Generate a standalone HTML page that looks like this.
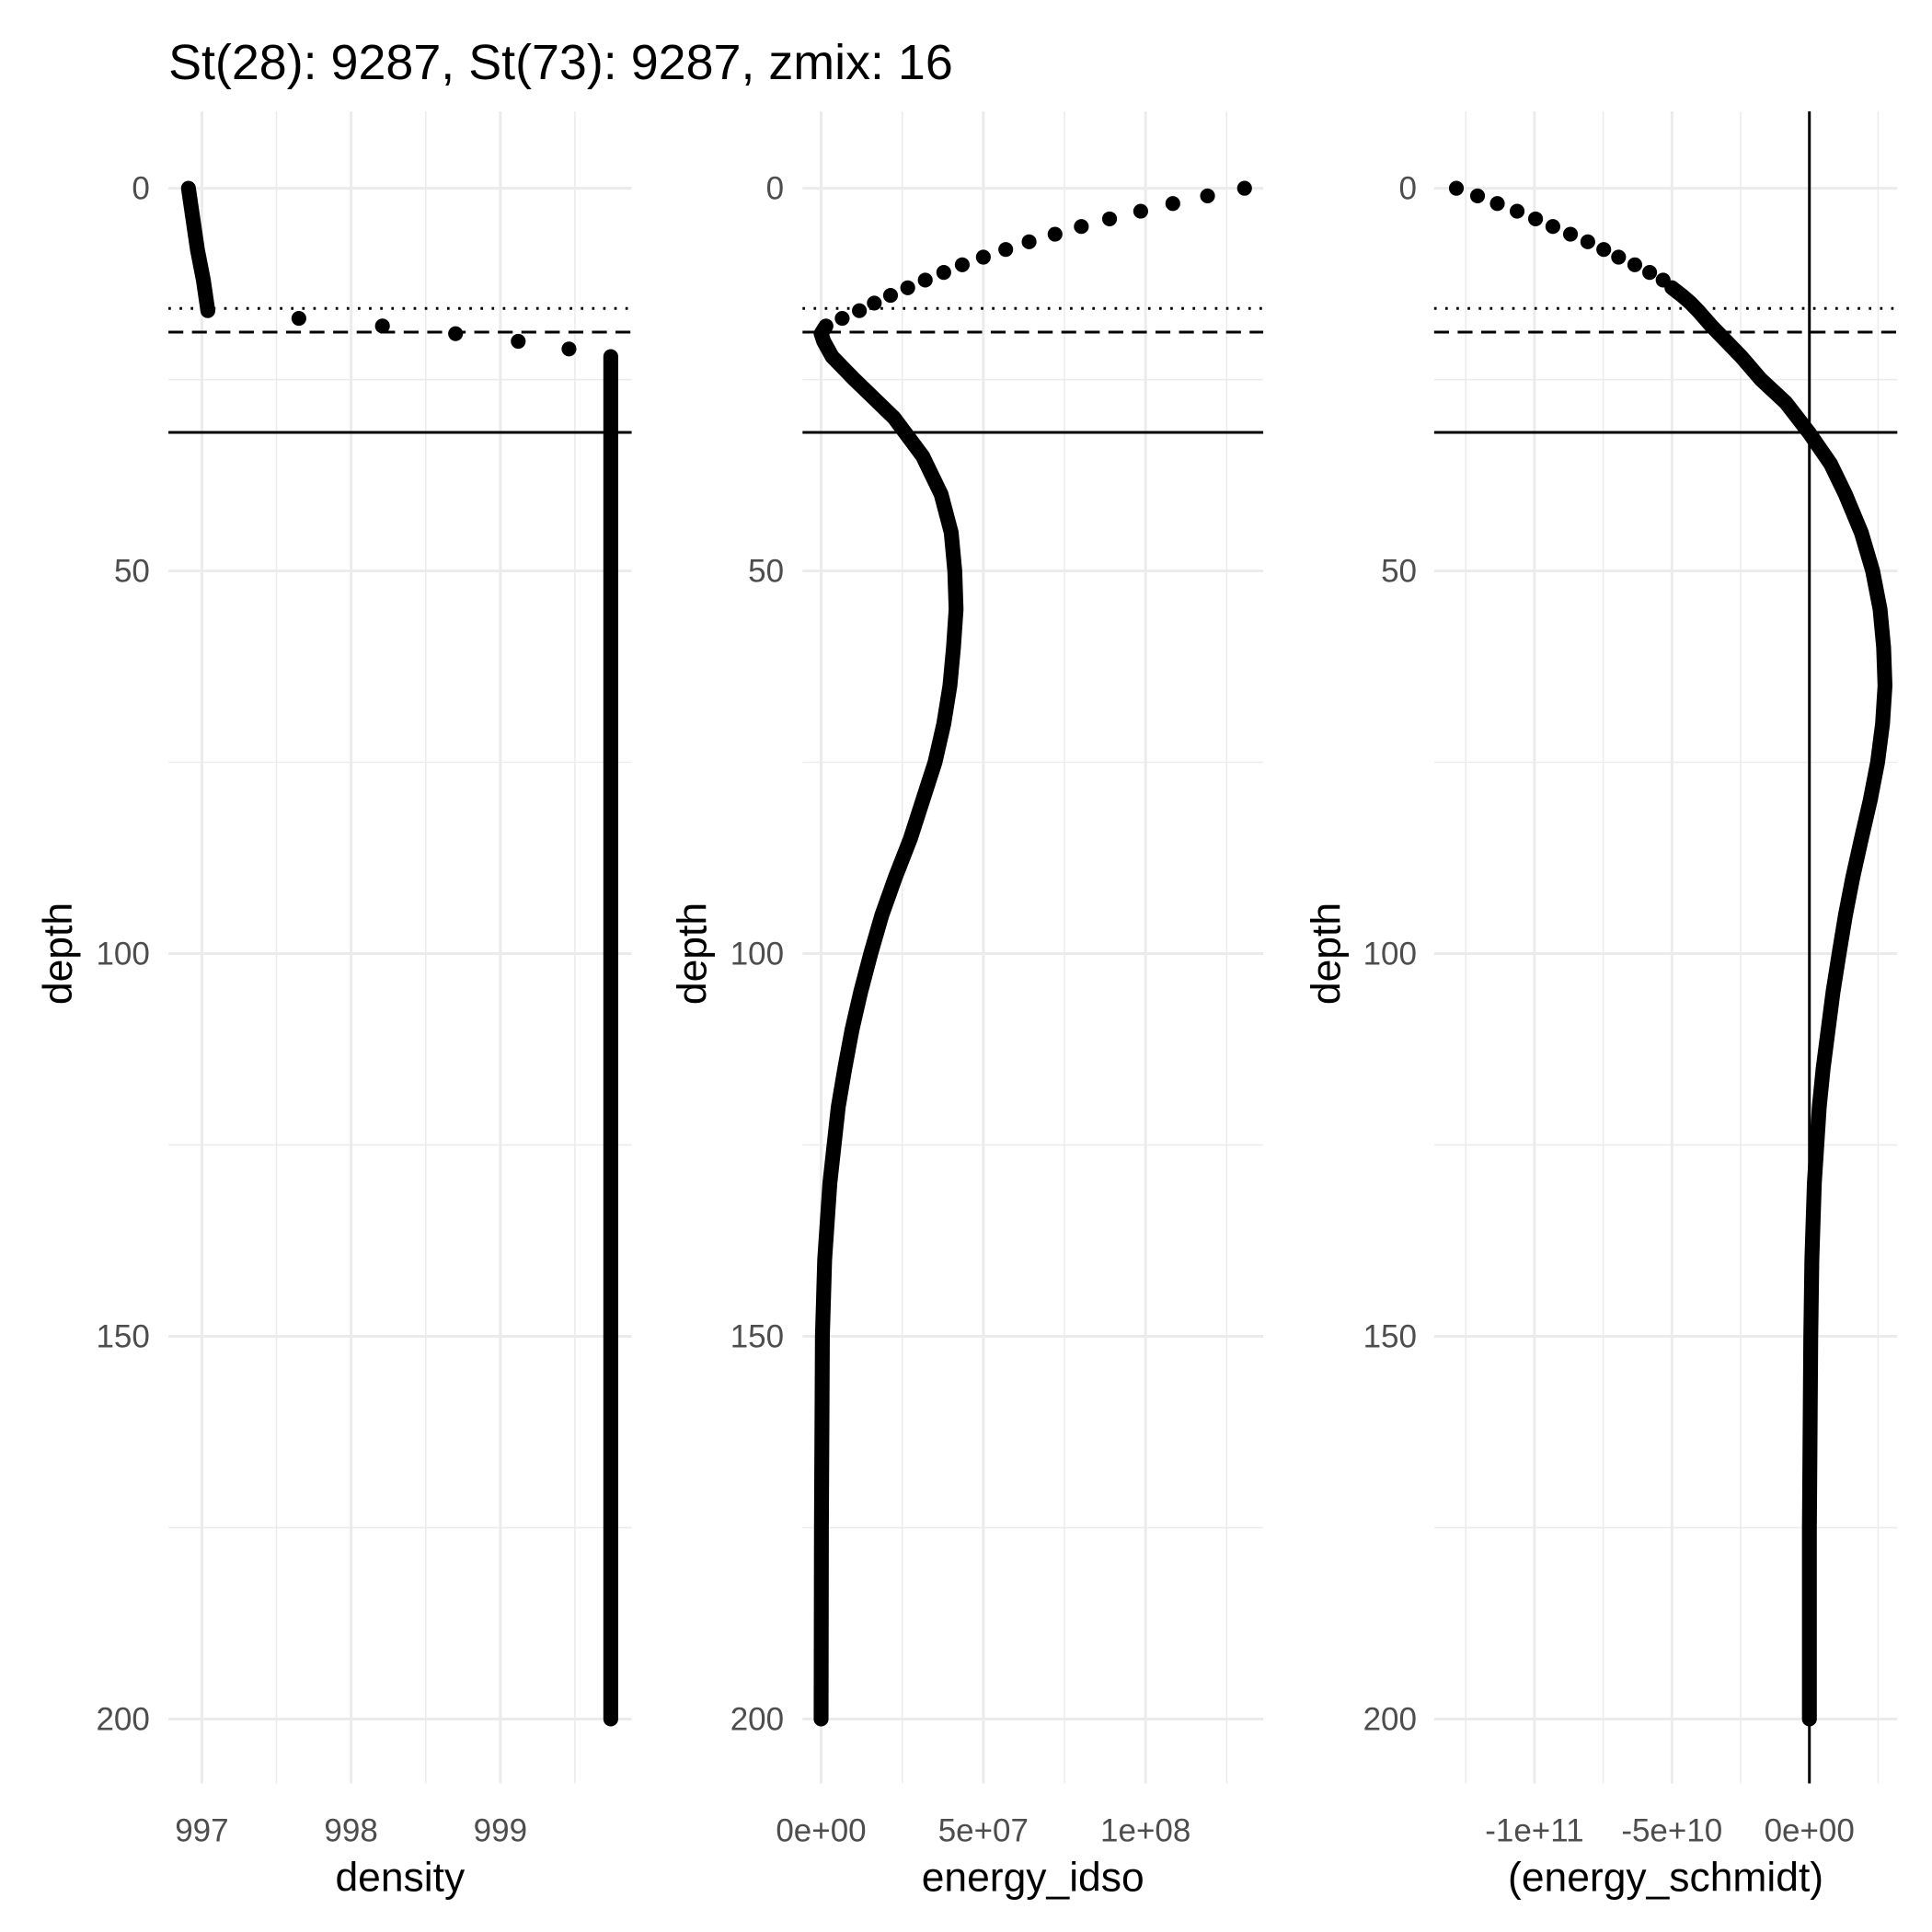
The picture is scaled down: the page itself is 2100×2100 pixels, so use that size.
<!DOCTYPE html>
<html><head><meta charset="utf-8"><style>
html,body{margin:0;padding:0;background:#fff}
svg{display:block}
text{font-family:"Liberation Sans",Arial,sans-serif}
</style></head><body>
<svg id="chart" width="2100" height="2100" viewBox="0 0 1560 1560" xmlns="http://www.w3.org/2000/svg">
<text x="136" y="64" font-size="40" fill="#000">St(28): 9287, St(73): 9287, zmix: 16</text>
<g id="plots"></g>
</svg>
<script>
// depth ticks
const depthTicks = [0, 50, 100, 150, 200];
const depthMinor = [25, 75, 125, 175];
const hlines = [15.7, 18.8, 31.9]; // dotted, dashed, solid

// density panel
const densDotDepth = [17, 18, 19, 20, 21];
const densDot = [997.65, 998.21, 998.70, 999.12, 999.46];
const densCurveDepth = [0, 4, 8, 12, 16];
const densCurve = [996.91, 996.94, 996.97, 997.01, 997.04];
const densDeepDepth = [22, 50, 100, 150, 200];
const densDeep = [999.74, 999.74, 999.74, 999.74, 999.74];
const densTicks = [997, 998, 999];
const densTickLabels = ["997", "998", "999"];

// energy_idso panel (units 1e7)
const idsoDotDepth = [0,1,2,3,4,5,6,7,8,9,10,11,12,13,14,15,16,17];
const idsoDot = [13.05,11.91,10.84,9.85,8.89,8.02,7.21,6.41,5.69,5.0,4.35,3.78,3.21,2.67,2.14,1.64,1.18,0.65];
const idsoCurveDepth = [18,19,20,22,25,30,35,40,45,50,55,60,65,70,75,80,85,90,95,100,105,110,115,120,130,140,150,175,200];
const idsoCurve = [0.15,0,0.08,0.34,1.03,2.25,3.13,3.70,4.01,4.12,4.16,4.08,3.97,3.78,3.51,3.13,2.75,2.29,1.87,1.53,1.22,0.95,0.73,0.53,0.27,0.11,0.04,0.01,0];
const idsoTicks = [0, 5, 10];
const idsoTickLabels = ["0e+00", "5e+07", "1e+08"];

// energy_schmidt panel (units 1e10)
const schDotDepth = [0,1,2,3,4,5,6,7,8,9,10,11,12];
const schDot = [-12.84,-12.07,-11.35,-10.63,-9.96,-9.33,-8.69,-8.06,-7.48,-6.94,-6.35,-5.81,-5.32];
const schCurveDepth = [13,14,15,16,18,20,22,25,28,32,36,40,45,50,55,60,65,70,75,80,85,90,95,100,105,110,115,120,125,130,140,150,175,200];
const schCurve = [-5.0,-4.64,-4.32,-4.05,-3.56,-3.02,-2.48,-1.76,-0.86,0,0.77,1.31,1.89,2.30,2.57,2.70,2.75,2.66,2.48,2.21,1.89,1.58,1.31,1.08,0.86,0.68,0.50,0.36,0.27,0.18,0.09,0.05,0,0];
const schTicks = [-10, -5, 0];
const schTickLabels = ["-1e+11", "-5e+10", "0e+00"];

const NS = "http://www.w3.org/2000/svg";
const root = document.getElementById("plots");
const yTop = 90, yBot = 1440;
function ys(d){ return 152 + d * 6.18; }
function mk(tag, attrs, parent){ const e=document.createElementNS(NS,tag); for(const k in attrs) e.setAttribute(k,attrs[k]); (parent||root).appendChild(e); return e; }

const panels = [
 {name:"density", x0:136, x1:510, ref:997, a:163, s:120.5, ticks:densTicks, labels:densTickLabels, dots:[densDotDepth,densDot], curves:[[densCurveDepth,densCurve],[densDeepDepth,densDeep]], title:"density", labX:121, titX:58, vline:null},
 {name:"energy-idso", x0:648, x1:1020, ref:0, a:663, s:26.2, ticks:idsoTicks, labels:idsoTickLabels, dots:[idsoDotDepth,idsoDot], curves:[[idsoCurveDepth,idsoCurve]], title:"energy_idso", labX:633, titX:570, vline:null},
 {name:"energy-schmidt", x0:1158, x1:1532, ref:0, a:1461, s:22.2, ticks:schTicks, labels:schTickLabels, dots:[schDotDepth,schDot], curves:[[schCurveDepth,schCurve]], title:"(energy_schmidt)", labX:1144, titX:1082, vline:0}
];

panels.forEach(p=>{
  const g = mk("g",{});
  
  
  const xs = v => p.a + (v - p.ref) * p.s;
  const step = p.ticks[1]-p.ticks[0];
  const minors = [];
  for(let v=p.ticks[0]-step*1.5; v<=p.ticks[p.ticks.length-1]+step; v+=step){ const x=xs(v); if(x>=p.x0-2 && x<=p.x1+2) minors.push(x); }
  minors.forEach(x=>{ const l=mk("line",{x1:x,x2:x,y1:yTop,y2:yBot,stroke:"#ebebeb","stroke-width":1.1},g);   });
  depthMinor.forEach(d=>{ const l=mk("line",{x1:p.x0,x2:p.x1,y1:ys(d),y2:ys(d),stroke:"#ebebeb","stroke-width":1.1},g);   });
  p.ticks.forEach(v=>{ const l=mk("line",{x1:xs(v),x2:xs(v),y1:yTop,y2:yBot,stroke:"#ebebeb","stroke-width":2.2},g);   });
  depthTicks.forEach(d=>{ const l=mk("line",{x1:p.x0,x2:p.x1,y1:ys(d),y2:ys(d),stroke:"#ebebeb","stroke-width":2.2},g);   });
  depthTicks.forEach(d=>{ const t=mk("text",{x:p.labX,y:ys(d)+9,"text-anchor":"end","font-size":26,fill:"#4d4d4d"},g); t.textContent=String(d);   });
  p.ticks.forEach((v,i)=>{ const t=mk("text",{x:xs(v),y:1487,"text-anchor":"middle","font-size":26,fill:"#4d4d4d"},g); t.textContent=p.labels[i];   });
  const xt=mk("text",{x:(p.x0+p.x1)/2,y:1527,"text-anchor":"middle","font-size":33,fill:"#000"},g); xt.textContent=p.title;
   
  const yt=mk("text",{x:0,y:0,"text-anchor":"middle","font-size":33,fill:"#000",transform:`translate(${p.titX},770) rotate(-90)`},g); yt.textContent="depth";
   
  const styles=["2,7","12,7",null];
  hlines.forEach((d,i)=>{ const a={x1:p.x0,x2:p.x1,y1:ys(d),y2:ys(d),stroke:"#000","stroke-width":2.2}; if(styles[i]) a["stroke-dasharray"]=styles[i]; const l=mk("line",a,g);   });
  if(p.vline!==null){ const l=mk("line",{x1:xs(p.vline),x2:xs(p.vline),y1:yTop,y2:yBot,stroke:"#000","stroke-width":2.2},g);   }
  p.curves.forEach(c=>{
    const pts=c[0].map((d,i)=>xs(c[1][i])+","+ys(d)).join(" ");
    const pl=mk("polyline",{points:pts,fill:"none",stroke:"#000","stroke-width":12,"stroke-linecap":"round","stroke-linejoin":"round"},g);
    
    
  });
  p.dots[0].forEach((d,i)=>{
    const c=mk("circle",{cx:xs(p.dots[1][i]),cy:ys(d),r:6,fill:"#000"},g);
    
    
  });
});
</script>
</body></html>
